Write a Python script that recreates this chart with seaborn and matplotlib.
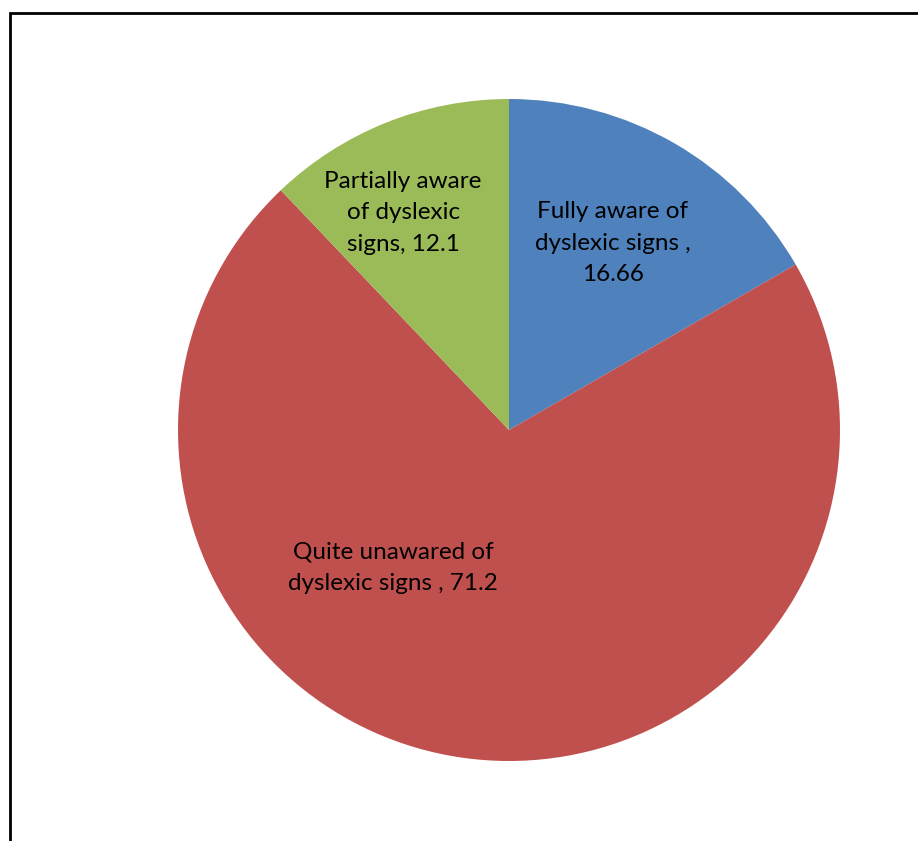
import matplotlib
matplotlib.use("Agg")
import matplotlib.pyplot as plt
from matplotlib.lines import Line2D
import numpy as np
import seaborn as sns

sns.set_theme(style="white")
plt.rcParams['font.family'] = ['Lato', 'DejaVu Sans']

categories = ["Fully aware of\ndyslexic signs ,\n16.66",
              "Quite unawared of\ndyslexic signs , 71.2",
              "Partially aware\nof dyslexic\nsigns, 12.1"]
values = [16.66, 71.2, 12.1]
colors = ["#4F81BD", "#C0504D", "#9BBB59"]
# label placement (angle clockwise from top in degrees, radius fraction)
label_pos = [(29, 0.645), (220, 0.545), (334, 0.73)]

fig = plt.figure(figsize=(9.18, 8.41), dpi=100)
W, H = 918, 841
cx, cy, r = 509, 430, 331
ax = fig.add_axes([(cx - r) / W, (H - cy - r) / H, 2 * r / W, 2 * r / H])
ax.pie(values, colors=colors, startangle=90, counterclock=False,
       wedgeprops=dict(linewidth=0), radius=1)
ax.set_xlim(-1, 1)
ax.set_ylim(-1, 1)
ax.set_aspect("equal")
ax.axis("off")

for lab, (ang, rf) in zip(categories, label_pos):
    t = np.deg2rad(ang)
    ax.text(rf * np.sin(t), rf * np.cos(t), lab, ha="center", va="center",
            fontsize=17.5, color="black", linespacing=1.62)

x0 = 9.5 / W
y0 = 1 - 12.5 / H
fig.add_artist(Line2D([x0, x0, 1.0], [0.0, y0, y0], color="black", lw=2,
                      transform=fig.transFigure, solid_joinstyle="miter"))

fig.savefig("out.png", dpi=100)
